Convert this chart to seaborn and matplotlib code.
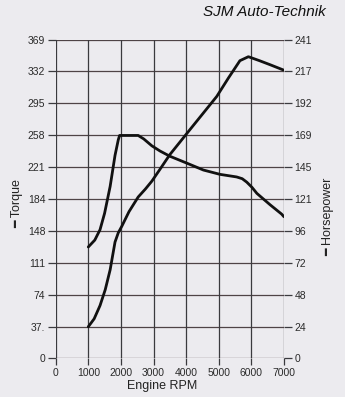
import matplotlib
matplotlib.use("Agg")
import matplotlib.pyplot as plt
import seaborn as sns
import numpy as np
import pandas as pd

# ---- data ----
torque_rpm = [1000, 1200, 1360, 1500, 1670, 1820, 1920, 1960, 2200, 2530, 2700, 2950,
              3200, 3500, 4020, 4530, 5040, 5550, 5720, 5860, 6020, 6170, 6570, 6930, 7000]
torque_val = [129, 137, 149, 168, 199, 235, 253, 258, 258, 258, 254, 246,
              240, 234, 226, 218, 213, 210, 208, 204, 198, 191, 178, 167, 164]
hp_rpm = [1000, 1180, 1360, 1520, 1670, 1820, 1920, 2030, 2250, 2530, 2750, 2950,
          3200, 3500, 4120, 4940, 5300, 5650, 5910, 6250, 6570, 6980]
hp_val = [24, 30, 40, 52, 67, 88, 95, 100, 111, 122, 128, 134,
          143, 154, 173, 198, 212, 225, 228, 225, 222, 218]
x_ticks = [0, 1000, 2000, 3000, 4000, 5000, 6000, 7000]
torque_labels = ["0", "37.", "74", "111", "148", "184", "221", "258", "295", "332", "369"]
hp_labels = ["0", "24", "48", "72", "96", "121", "145", "169", "192", "217", "241"]

sns.set_theme(style="white")
plt.rcParams["font.family"] = ["Liberation Sans", "DejaVu Sans"]

bg = "#ecebef"
fig = plt.figure(figsize=(3.45, 3.97), dpi=100, facecolor=bg)
ax = fig.add_axes([0.1614, 0.097, 0.823 - 0.1614, 0.9005 - 0.097])
ax.set_facecolor(bg)

tq = pd.DataFrame({"rpm": torque_rpm, "val": torque_val})
hp = pd.DataFrame({"rpm": hp_rpm, "val": hp_val})

ax.set_xlim(0, 7000)
ax.set_ylim(0, 369)
tq_ticks = np.linspace(0, 369, 11)
ax.set_yticks(tq_ticks)
ax.set_yticklabels(torque_labels)
ax.set_xticks(x_ticks)
ax.set_xticklabels([str(v) for v in x_ticks])

for y in tq_ticks:
    ax.axhline(y, color="#4e4346", lw=0.9, zorder=1)
for x in x_ticks:
    ax.axvline(x, color="#3a3a3e", lw=0.9, zorder=1)

sns.lineplot(data=tq, x="rpm", y="val", ax=ax, color="#111111", lw=2.0, zorder=3)

ax2 = ax.twinx()
ax2.set_ylim(0, 241)
ax2.set_yticks(np.linspace(0, 241, 11))
ax2.set_yticklabels(hp_labels)
sns.lineplot(data=hp, x="rpm", y="val", ax=ax2, color="#111111", lw=2.0, zorder=3)

for a in (ax, ax2):
    a.set_xlabel("")
    a.set_ylabel("")
    for s in a.spines.values():
        s.set_visible(False)
    a.tick_params(axis="both", which="both", length=6, width=0.9, color="#3a3a3e",
                  labelsize=7.5, labelcolor="#2a2a2a", pad=1.5)
ax.tick_params(axis="x", length=5, pad=2)
ax.tick_params(left=True, bottom=True)
ax2.tick_params(right=True)

fig.text(0.47, 0.028, "Engine RPM", ha="center", va="center", fontsize=9, color="#222222")
fig.text(0.05, 0.486, "━ Torque", rotation=90, ha="center", va="center",
         fontsize=9, color="#222222")
fig.text(0.951, 0.453, "━ Horsepower", rotation=90, ha="center", va="center",
         fontsize=9, color="#222222")
fig.text(0.765, 0.97, "SJM Auto-Technik", ha="center", va="center", fontsize=11,
         style="italic", color="#111111")

fig.savefig("out.png", dpi=100, facecolor=bg)
